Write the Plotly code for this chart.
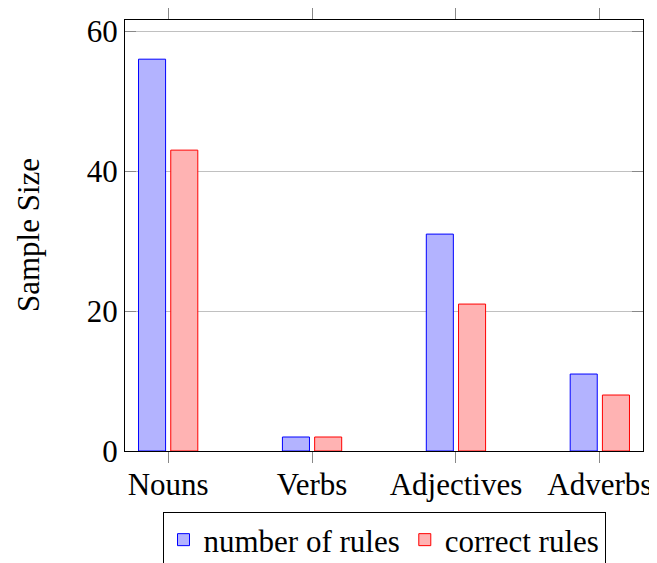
import plotly.graph_objects as go

categories = ["Nouns", "Verbs", "Adjectives", "Adverbs"]
number_of_rules = [56, 2, 31, 11]
correct_rules = [43, 2, 21, 8]
y_ticks = [0, 20, 40, 60]

FONT = "Liberation Serif, Times New Roman, serif"
# the page places the figure at (8, 8); size it to fill the rest of the window
OFF = 8
W, H = 657 - OFF, 563 - OFF
# plot area in window pixels, converted to figure pixels
PX0, PX1 = 125 - OFF, 643 - OFF
PY0, PY1 = 20 - OFF, 451 - OFF

fig = go.Figure()
fig.add_trace(go.Bar(
    x=categories, y=number_of_rules, name="number of rules",
    width=0.188, offset=-0.206,
    marker=dict(color="rgb(179,179,255)", line=dict(color="rgb(0,0,255)", width=1)),
))
fig.add_trace(go.Bar(
    x=categories, y=correct_rules, name="correct rules",
    width=0.188, offset=0.018,
    marker=dict(color="rgb(255,179,179)", line=dict(color="rgb(255,0,0)", width=1)),
))

fig.update_layout(
    width=W, height=H,
    margin=dict(l=0, r=0, t=0, b=0, pad=0, autoexpand=False),
    plot_bgcolor="white", paper_bgcolor="white",
    font=dict(family=FONT, size=31, color="black"),
    showlegend=True,
    legend=dict(
        orientation="h", x=(384 - OFF) / W, xanchor="center",
        y=(H - (512 - OFF)) / H, yanchor="top",
        bordercolor="black", borderwidth=1, bgcolor="white",
        font=dict(family=FONT, size=31), itemwidth=30, tracegroupgap=0,
    ),
    xaxis=dict(
        domain=[PX0 / W, PX1 / W], automargin=False,
        range=[-0.3, 3.3], showline=True, linecolor="black", linewidth=1, mirror="ticks",
        ticks="outside", ticklen=11, tickcolor="#888888", tickwidth=1,
        ticklabelstandoff=-5,
        showgrid=False, tickfont=dict(family=FONT, size=31),
    ),
    yaxis=dict(
        domain=[(H - PY1) / H, (H - PY0) / H], automargin=False,
        range=[0, 61.6], tickvals=y_ticks, showline=True, linecolor="black", linewidth=1,
        mirror="ticks", ticks="inside", ticklen=11, tickcolor="#888888", tickwidth=1,
        showgrid=True, gridcolor="#c0c0c0", gridwidth=1, zeroline=False,
        tickfont=dict(family=FONT, size=31),
    ),
    annotations=[dict(
        text="Sample Size", xref="paper", yref="paper", x=(28 - OFF) / W,
        y=(H - (235 - OFF)) / H,
        xanchor="center", yanchor="middle", textangle=-90, showarrow=False,
        font=dict(family=FONT, size=31),
    )],
)

fig.write_html("out.html")
